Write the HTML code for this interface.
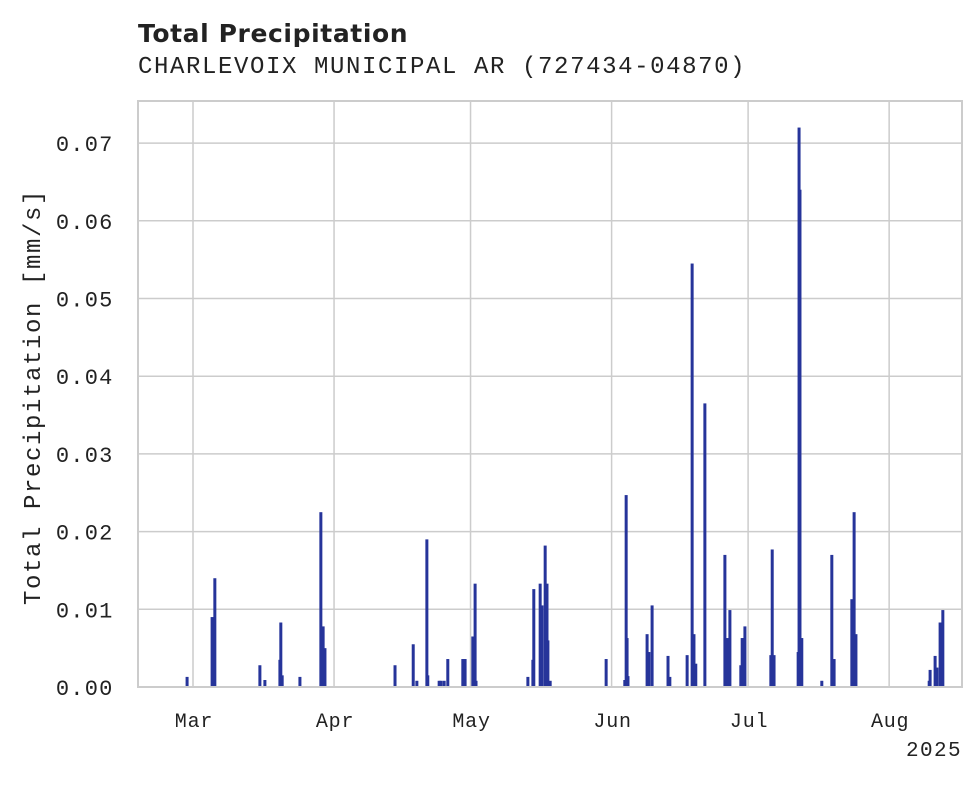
<!DOCTYPE html>
<html><head><meta charset="utf-8"><style>
body{margin:0;background:#fff;}
svg text{font-family:"Liberation Mono","DejaVu Sans Mono",monospace;fill:#222;}
</style></head><body>
<svg id="chart" width="980" height="783" viewBox="0 0 980 783">
<text x="138" y="42" style="font-family:'DejaVu Sans','Liberation Sans',sans-serif;font-weight:bold;font-size:25px" letter-spacing="0.6">Total Precipitation</text>
<text x="138" y="73" font-size="24" letter-spacing="1.6">CHARLEVOIX MUNICIPAL AR (727434-04870)</text>
<g id="grid"></g><g id="bars"></g><g id="axes"></g>
<text transform="translate(40,397) rotate(-90)" text-anchor="middle" font-size="24" letter-spacing="1.6">Total Precipitation [mm/s]</text>
<text x="962" y="756" text-anchor="end" font-size="21" letter-spacing="1.4">2025</text>
</svg>
<script>
const yTicks=[0,0.01,0.02,0.03,0.04,0.05,0.06,0.07];
const yTickLabels=["0.00","0.01","0.02","0.03","0.04","0.05","0.06","0.07"];
const monthDays=[0,31,61,92,122,153];
const monthLabels=["Mar","Apr","May","Jun","Jul","Aug"];
// day offsets from Mar 1
const days=[-1.3,4.2,4.8,14.7,15.8,19.1,19.3,19.6,23.5,28.1,28.6,29.0,44.4,48.4,49.2,51.4,51.6,54.1,54.5,55.2,56.0,59.3,59.8,61.5,62.0,62.2,73.6,74.7,74.9,76.3,76.7,77.4,77.8,78.0,78.5,90.8,94.9,95.2,95.4,95.6,99.8,100.2,100.9,104.4,104.8,108.6,109.7,110.1,110.5,112.5,116.9,117.4,118.0,120.4,120.7,121.1,121.3,127.0,127.3,127.7,133.0,133.2,133.4,133.8,138.2,140.4,140.9,144.8,145.3,145.7,161.8,162.0,163.1,163.5,164.2,164.8];
const values=[0.0013,0.009,0.014,0.0028,0.0009,0.0035,0.0083,0.0015,0.0013,0.0225,0.0078,0.005,0.0028,0.0055,0.0008,0.019,0.0015,0.0008,0.0008,0.0008,0.0036,0.0036,0.0036,0.0065,0.0133,0.0008,0.0013,0.0035,0.0126,0.0133,0.0105,0.0182,0.0133,0.006,0.0008,0.0036,0.0009,0.0247,0.0063,0.0014,0.0068,0.0045,0.0105,0.004,0.0013,0.0041,0.0545,0.0068,0.003,0.0365,0.017,0.0063,0.0099,0.0028,0.0063,0.0063,0.0078,0.0041,0.0177,0.0041,0.0045,0.072,0.064,0.0063,0.0008,0.017,0.0036,0.0113,0.0225,0.0068,0.0008,0.0022,0.004,0.0025,0.0083,0.0099];
const L=138,R=962,T=101,B=687;
const x=d=>193+d*4.55;
const y=v=>B-v*7770;
const NS="http://www.w3.org/2000/svg";
function mk(tag,attrs,parent){const e=document.createElementNS(NS,tag);for(const k in attrs)e.setAttribute(k,attrs[k]);parent.appendChild(e);return e;}
const grid=document.getElementById('grid'),bars=document.getElementById('bars'),axes=document.getElementById('axes');
yTicks.forEach((t,i)=>{
 const ln=mk('line',{x1:L,x2:R,y1:y(t),y2:y(t),stroke:'#cccccc','stroke-width':1.5},grid);
 
 
 const tx=mk('text',{x:113.5,y:y(t)+8,'text-anchor':'end','font-size':22,'letter-spacing':1.2},axes);
 tx.textContent=yTickLabels[i];
 
 
});
monthDays.forEach((d,i)=>{
 const ln=mk('line',{x1:x(d),x2:x(d),y1:T,y2:B,stroke:'#cccccc','stroke-width':1.5},grid);
 
 
 const tx=mk('text',{x:x(d)+1,y:727,'text-anchor':'middle','font-size':20,'letter-spacing':0.8},axes);
 tx.textContent=monthLabels[i];
 
 
});
const fr=mk('rect',{x:L,y:T,width:R-L,height:B-T,fill:'none',stroke:'#cccccc','stroke-width':2},axes);


days.forEach((d,i)=>{
 const r=mk('rect',{x:x(d)-1.5,y:y(values[i]),width:3,height:B-y(values[i]),fill:'#26349a'},bars);
 
 
});
</script>
</body></html>
